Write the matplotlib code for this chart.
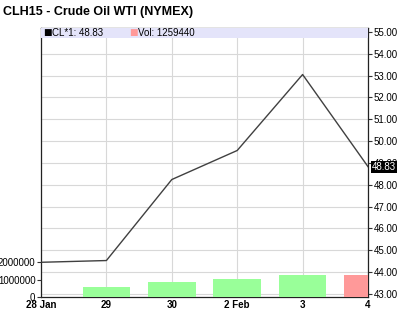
import numpy as np
import matplotlib.pyplot as plt
from matplotlib.patches import Rectangle
from matplotlib.ticker import FormatStrFormatter

plt.rcParams['font.family'] = ['Liberation Sans', 'DejaVu Sans']

# ===== Data =====
dates = ["28 Jan", "29", "30", "2 Feb", "3", "4"]
close = [44.45, 44.53, 48.24, 49.57, 53.05, 48.83]
volume = [np.nan, 580000, 840000, 1020000, 1250000, 1259440]  # no bar on 28 Jan
vol_up = [True, True, True, True, True, False]
last_price = 48.83
last_vol = 1259440
price_ticks = np.arange(43, 56, 1)
vol_ticks = [0, 1000000, 2000000]

x = np.arange(len(dates))
vol = np.array(volume, dtype=float)
has_vol = ~np.isnan(vol)
price_lim = (42.86, 55.18)
rect = [41 / 407, 1 - 297 / 318, (368 - 41) / 407, (297 - 28) / 318]

fig = plt.figure(figsize=(4.07, 3.18), dpi=100, facecolor='white')

# ===== Grid layer (behind everything) =====
gax = fig.add_axes(rect, zorder=-1)
gax.set_xlim(0, 5)
gax.set_ylim(*price_lim)
gax.set_xticks(x)
gax.set_yticks(price_ticks)
gax.grid(True, color='#d8d8d8', linewidth=0.8)
gax.tick_params(length=0, labelleft=False, labelbottom=False)
for s in gax.spines.values():
    s.set_visible(False)

# ===== Price (right axis) =====
ax = fig.add_axes(rect)
ax.patch.set_visible(False)
ax2 = ax.twinx()

ax.plot(x, close, color='#404040', linewidth=1.0, zorder=3)
ax.set_xlim(0, 5)
ax.set_ylim(*price_lim)
ax.set_yticks(price_ticks)
ax.yaxis.set_major_formatter(FormatStrFormatter('%.2f'))
ax.yaxis.tick_right()
ax.tick_params(axis='y', labelsize=7, length=3, width=0.8, color='#333333', pad=1)
ax.set_xticks(x)
ax.set_xticklabels(dates, fontsize=7, fontweight='bold')
ax.tick_params(axis='x', length=0, pad=2)
for s in ax.spines.values():
    s.set_color('#222222')
    s.set_linewidth(0.9)

# last price marker on right axis
ax.text(1.012, last_price, f"{last_price:.2f}", transform=ax.get_yaxis_transform(),
        fontsize=7, color='white', va='center', ha='left',
        bbox=dict(boxstyle='square,pad=0.1', facecolor='black', edgecolor='none'),
        zorder=10, clip_on=False)

# ===== Volume (left axis) =====
colors = np.array(['#99ff99' if up else '#ff9999' for up in vol_up])
ax2.bar(x[has_vol], vol[has_vol], width=0.73, color=colors[has_vol],
        edgecolor='none', zorder=2)
ax2.set_ylim(0, 15.5e6)
ax2.set_xlim(0, 5)
ax2.yaxis.tick_left()
ax2.set_yticks(vol_ticks)
ax2.set_yticklabels([str(v) for v in vol_ticks])
ax2.tick_params(axis='y', labelsize=7, length=3, width=0.8, color='#333333', pad=1)
for s in ax2.spines.values():
    s.set_visible(False)

# legend band
ax2.add_patch(Rectangle((0, 1 - 10 / 269), 1, 10 / 269, transform=ax2.transAxes,
                        facecolor='#e4e4fa', edgecolor='none', zorder=5, clip_on=False))
ax2.text(0.008, 1 - 5 / 269, "\u25a0", transform=ax2.transAxes, fontsize=6.5,
         color='black', va='center', ha='left', zorder=6, family=['DejaVu Sans'])
ax2.text(0.035, 1 - 5 / 269, f"CL*1: {last_price:.2f}", transform=ax2.transAxes,
         fontsize=7, va='center', ha='left', zorder=6)
ax2.text(0.27, 1 - 5 / 269, "\u25a0", transform=ax2.transAxes, fontsize=6.5,
         color='#ff9999', va='center', ha='left', zorder=6, family=['DejaVu Sans'])
ax2.text(0.297, 1 - 5 / 269, f"Vol: {last_vol}", transform=ax2.transAxes,
         fontsize=7, va='center', ha='left', zorder=6)

fig.text(3 / 407, 1 - 12 / 318, "CLH15 - Crude Oil WTI (NYMEX)", fontsize=9,
         fontweight='bold', va='center', ha='left')

fig.savefig('out.png', dpi=100)
